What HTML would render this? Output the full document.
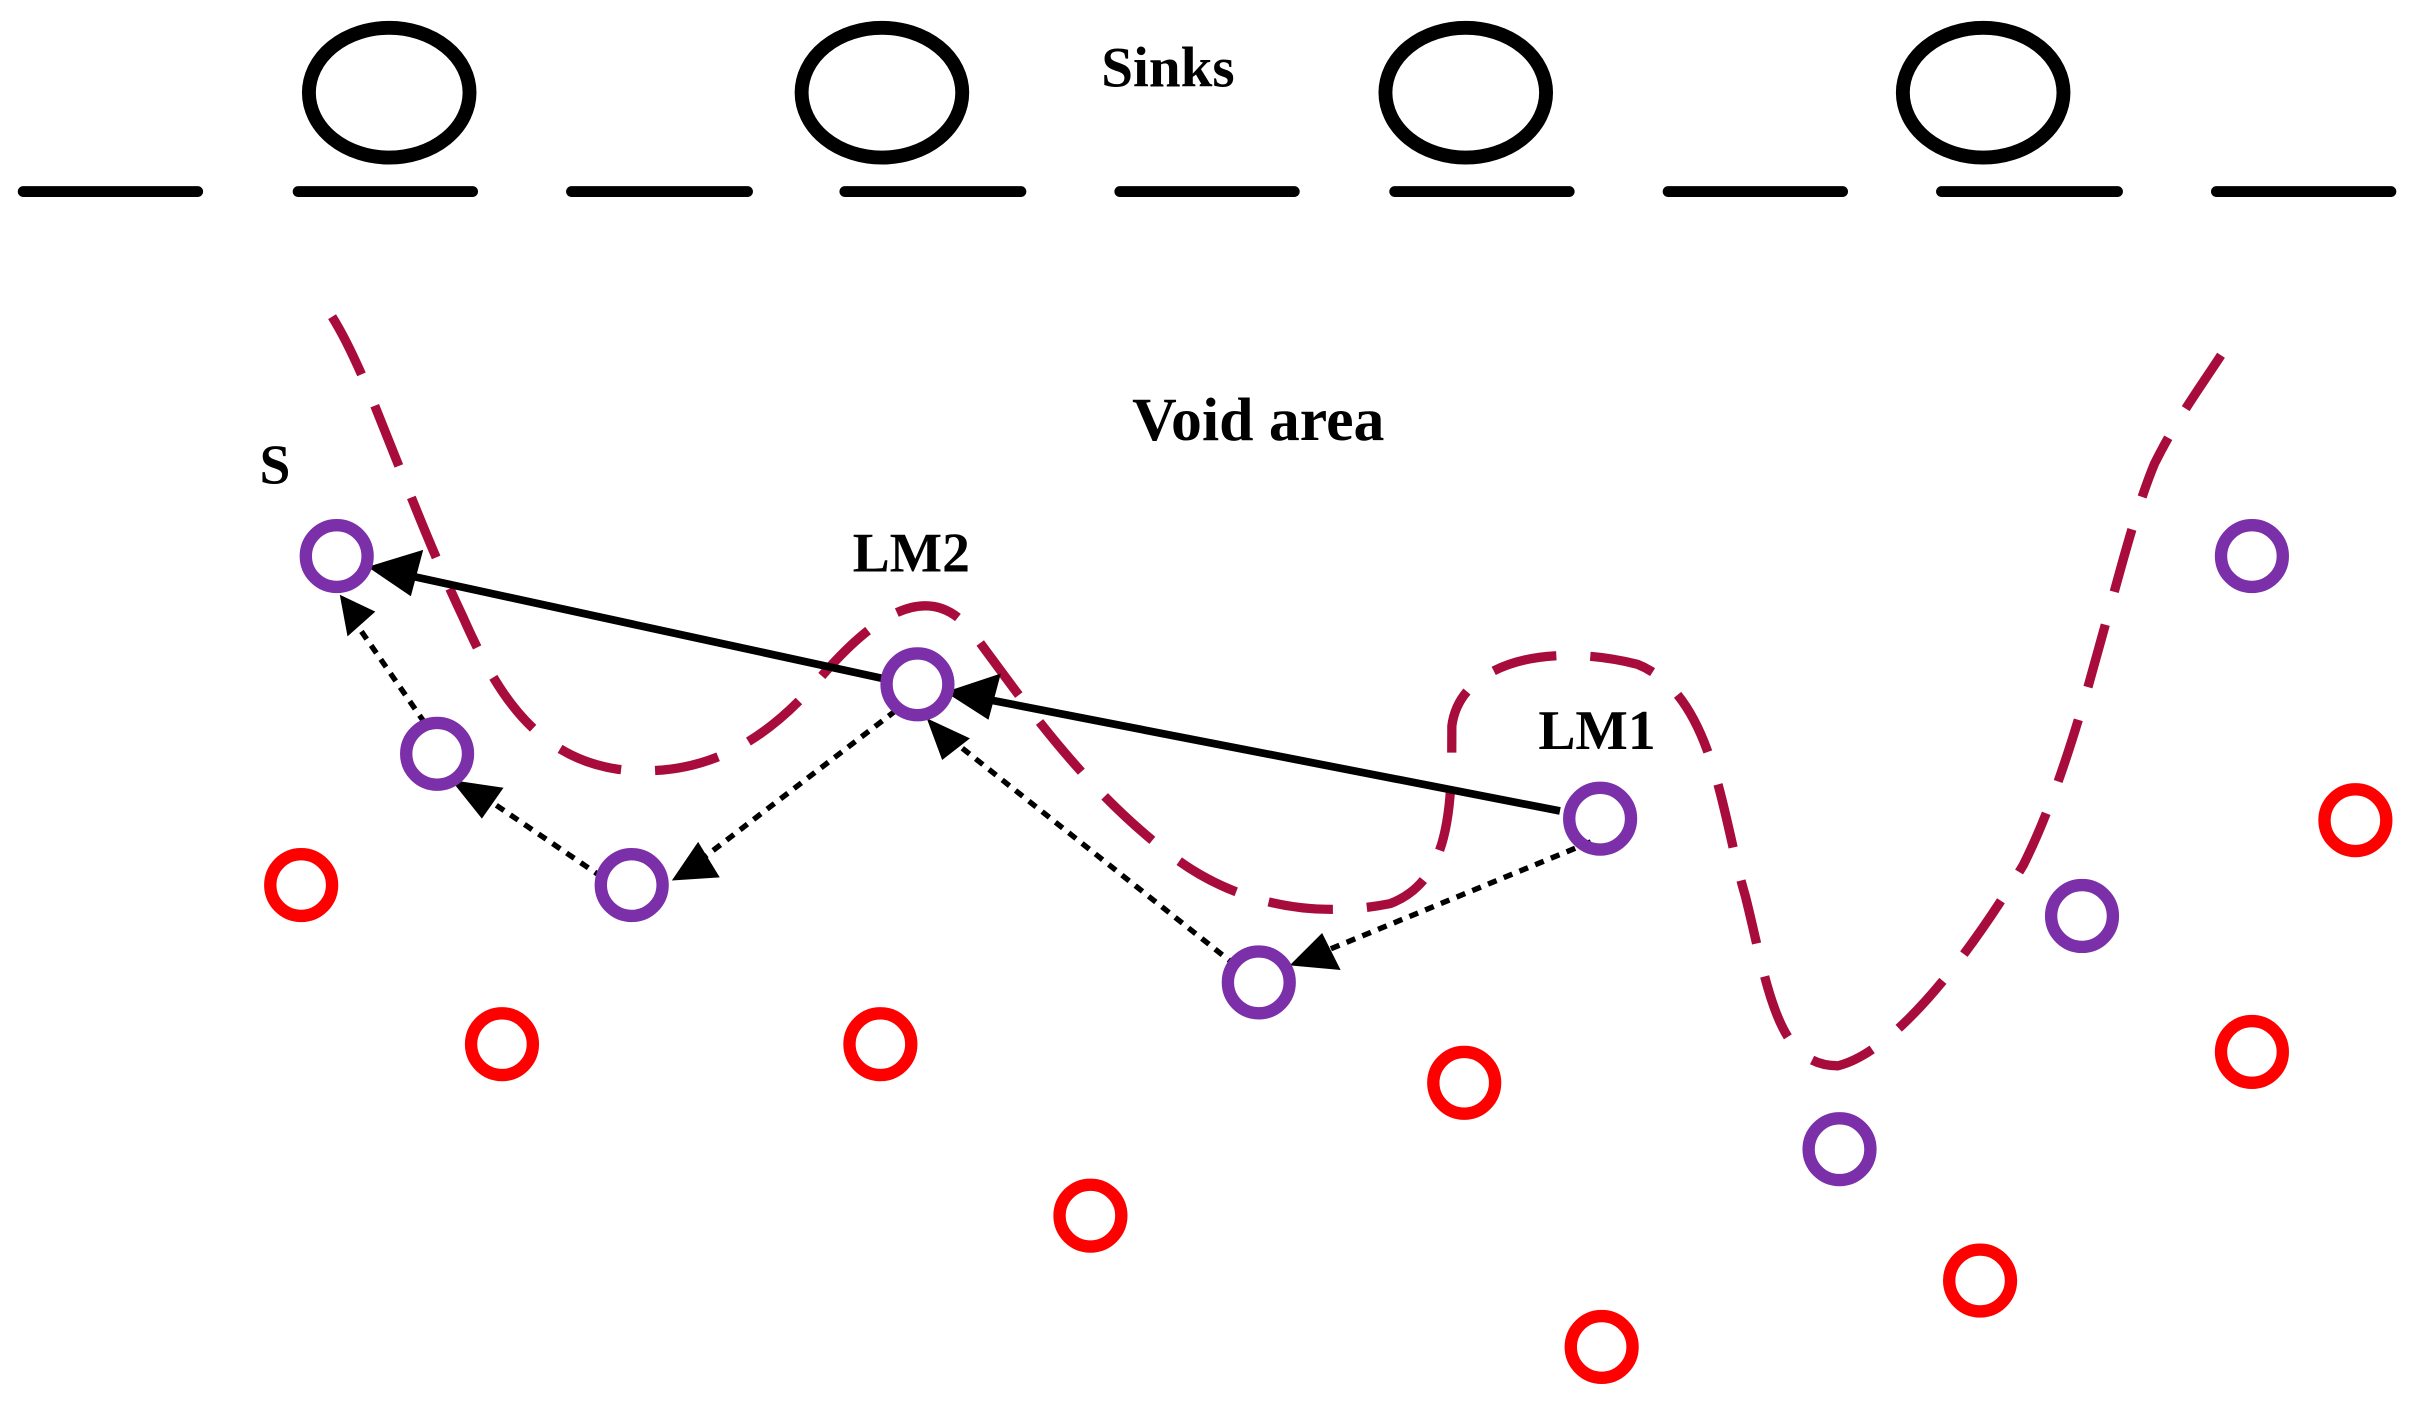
<!DOCTYPE html>
<html><head><meta charset="utf-8"><style>html,body{margin:0;padding:0;background:#fff;}svg{display:block}</style></head>
<body>
<svg width="2411" height="1401" viewBox="0 0 1561 907" preserveAspectRatio="none" xmlns="http://www.w3.org/2000/svg">
<g stroke="#000" stroke-width="7" stroke-linecap="round">
<line x1="15" y1="124" x2="128" y2="124"/><line x1="193" y1="124" x2="306" y2="124"/>
<line x1="370" y1="124" x2="484" y2="124"/><line x1="547" y1="124" x2="661" y2="124"/>
<line x1="725" y1="124" x2="838" y2="124"/><line x1="903" y1="124" x2="1016" y2="124"/>
<line x1="1080" y1="124" x2="1193" y2="124"/><line x1="1257" y1="124" x2="1371" y2="124"/>
<line x1="1435" y1="124" x2="1548" y2="124"/>
</g>
<g fill="none" stroke="#000" stroke-width="9">
<ellipse cx="252" cy="60" rx="52" ry="42"/><ellipse cx="571" cy="60" rx="52" ry="42"/>
<ellipse cx="949" cy="60" rx="52" ry="42"/><ellipse cx="1284" cy="60" rx="52" ry="42"/>
</g>
<g font-family="Liberation Serif, serif" font-weight="bold" fill="#000">
<text x="713" y="56" font-size="37">Sinks</text>
<text x="733" y="285" font-size="40">Void area</text>
<text x="168" y="313" font-size="36">S</text>
<text x="552" y="370" font-size="36">LM2</text>
<text x="996" y="485" font-size="36">LM1</text>
</g>
<path d="M215,205 C240,245 262,320 300,400 C320,445 345,490 400,498 C460,505 500,475 530,440 C560,405 600,370 630,410 C660,450 700,510 760,555 C800,585 850,595 900,585 C940,570 940,520 940,470 C945,430 1000,415 1060,430 C1110,450 1115,530 1130,580 C1145,640 1150,690 1190,690 C1230,680 1280,610 1310,560 C1350,480 1370,360 1395,300 C1410,270 1425,250 1438,230" fill="none" stroke="#A80C3C" stroke-width="6" stroke-dasharray="42,22"/>
<g stroke="#000" stroke-width="5" fill="none">
<line x1="1010" y1="525" x2="635" y2="452"/>
<line x1="575" y1="440" x2="262" y2="372"/>
</g>
<g stroke="#000" stroke-width="3.5" fill="none" stroke-dasharray="6,5">
<line x1="1030" y1="545" x2="855" y2="617"/>
<line x1="800" y1="625" x2="615" y2="478"/>
<line x1="580" y1="460" x2="452" y2="558"/>
<line x1="390" y1="568" x2="312" y2="515"/>
<line x1="275" y1="468" x2="230" y2="403"/>
</g>
<g fill="#000">
<polygon points="612,448 648,436 640,466"/>
<polygon points="238,367 274,356 266,386"/>
<polygon points="835,625 868,628 856,604"/>
<polygon points="600,465 628,478 610,492"/>
<polygon points="435,570 452,545 466,568"/>
<polygon points="292,505 326,510 312,530"/>
<polygon points="220,385 243,396 225,412"/>
</g>
<g fill="none" stroke="#7B2FA8" stroke-width="8">
<circle cx="218" cy="360" r="20"/><circle cx="283" cy="488" r="20"/>
<circle cx="409" cy="573" r="20"/><circle cx="594" cy="443" r="20"/>
<circle cx="815" cy="636" r="20"/><circle cx="1036" cy="530" r="20"/>
<circle cx="1458" cy="360" r="20"/><circle cx="1348" cy="593" r="20"/>
<circle cx="1191" cy="744" r="20"/>
</g>
<g fill="none" stroke="#F00" stroke-width="8">
<circle cx="195" cy="573" r="20"/><circle cx="325" cy="676" r="20"/>
<circle cx="570" cy="676" r="20"/><circle cx="948" cy="701" r="20"/>
<circle cx="706" cy="787" r="20"/><circle cx="1037" cy="872" r="20"/>
<circle cx="1282" cy="829" r="20"/><circle cx="1458" cy="681" r="20"/>
<circle cx="1525" cy="531" r="20"/>
</g>
</svg>
</body></html>
